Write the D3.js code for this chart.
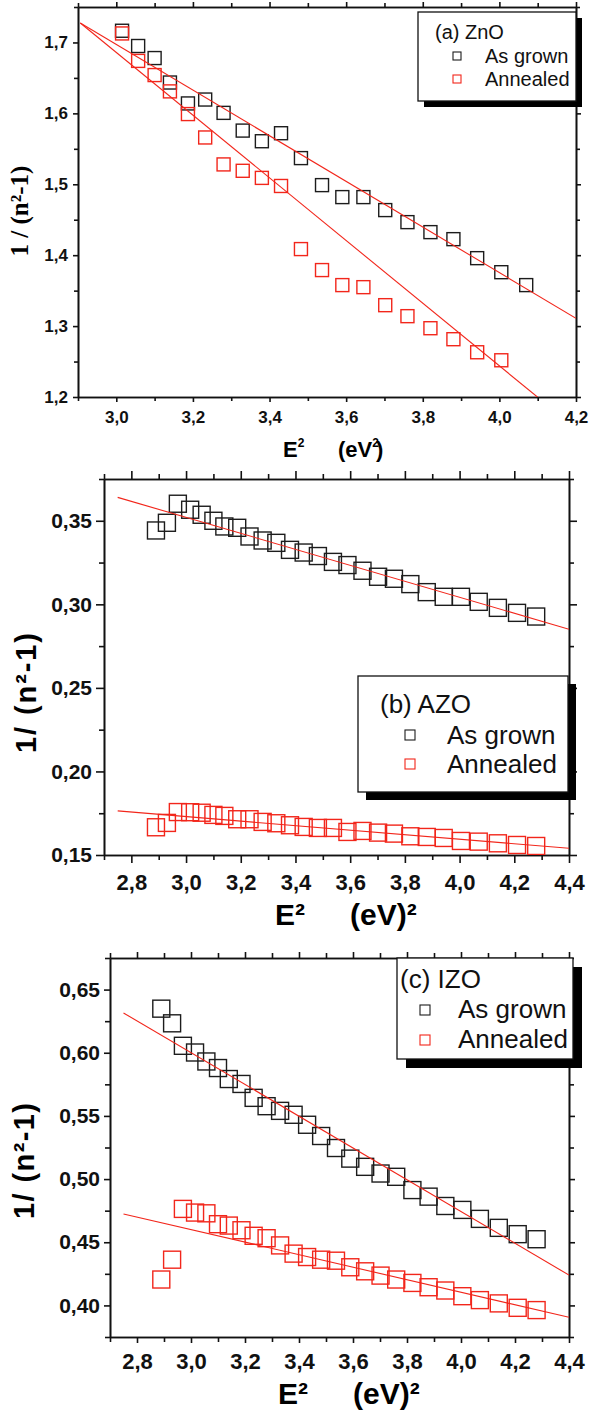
<!DOCTYPE html>
<html lang="en">
<head>
<meta charset="UTF-8">
<title>1/(n²-1) versus E² for ZnO, AZO and IZO</title>
<script src="https://d3js.org/d3.v7.min.js"></script>
<style>
  body { margin: 0; background: #fff; }
  svg { display: block; font-family: "Liberation Sans", Arial, sans-serif; }
  .domain, .tick line { stroke: #111; stroke-width: 1.6px; }
  .tick text { font-weight: bold; fill: #111; }
  .legend text { fill: #111; }
</style>
</head>
<body>
<div id="chart"></div>
<script>
// photon energy squared, eV² (same grid for all films; ZnO uses it from the 4th value)
const e2 = [2.89, 2.93, 2.97, 3.015, 3.057, 3.10, 3.14, 3.187, 3.232, 3.28, 3.33, 3.38, 3.43, 3.482,
            3.537, 3.59, 3.645, 3.702, 3.76, 3.82, 3.88, 3.942, 4.005, 4.07, 4.14, 4.21, 4.28];

// (a) ZnO
const znoGrown = [1.7165, 1.695, 1.678, 1.6435, 1.614, 1.6195, 1.6007, 1.5757, 1.5607, 1.572, 1.5369,
                  1.4988, 1.4819, 1.4819, 1.4636, 1.4466, 1.4325, 1.4226, 1.3958, 1.376, 1.3578];
const znoAnnealed = [1.7127, 1.674, 1.654, 1.631, 1.599, 1.566, 1.528, 1.519, 1.509, 1.4976, 1.4086,
                     1.379, 1.3578, 1.3549, 1.3295, 1.314, 1.297, 1.2815, 1.2631, 1.2518];
const znoFitGrown = [[2.906, 1.7274], [4.2, 1.311]];
const znoFitAnnealed = [[2.906, 1.7274], [4.1, 1.1997]];

// (b) AZO
const azoGrown = [0.3442, 0.3488, 0.3602, 0.3566, 0.3536, 0.35, 0.3466, 0.3458, 0.3406, 0.3382, 0.3368,
                  0.3326, 0.331, 0.3289, 0.3254, 0.3235, 0.3201, 0.3165, 0.3153, 0.3121, 0.3073, 0.3045,
                  0.3045, 0.3015, 0.2979, 0.2949, 0.2927];
const azoAnnealed = [0.1666, 0.1692, 0.1757, 0.1756, 0.1753, 0.174, 0.1734, 0.1714, 0.1714, 0.1698, 0.169,
                     0.1678, 0.1668, 0.1662, 0.1662, 0.1638, 0.1644, 0.1634, 0.1628, 0.1612, 0.1608, 0.1602,
                     0.1584, 0.158, 0.157, 0.156, 0.1554];
const azoFitGrown = [[2.75, 0.364], [4.4, 0.2851]];
const azoFitAnnealed = [[2.75, 0.1764], [4.4, 0.154]];

// (c) IZO
const izoGrown = [0.6349, 0.6233, 0.6055, 0.6002, 0.5931, 0.5879, 0.5792, 0.5753, 0.5643, 0.5577, 0.554,
                  0.5509, 0.543, 0.5341, 0.5246, 0.5162, 0.5097, 0.5044, 0.5018, 0.4913, 0.4861, 0.4787,
                  0.4756, 0.4685, 0.4614, 0.4564, 0.4524];
const izoAnnealed = [0.4205, 0.4362, 0.4764, 0.4735, 0.4729, 0.4643, 0.4632, 0.4595, 0.4551, 0.4532, 0.4475,
                     0.441, 0.4383, 0.4362, 0.4354, 0.4302, 0.427, 0.4236, 0.4205, 0.4178, 0.4144, 0.4118,
                     0.4073, 0.4042, 0.4016, 0.3981, 0.3963];
const izoFitGrown = [[2.75, 0.6315], [4.4, 0.424]];
const izoFitAnnealed = [[2.75, 0.4724], [4.4, 0.3906]];

// ticks
const znoXTicks = [3.0, 3.2, 3.4, 3.6, 3.8, 4.0, 4.2];
const znoXMinor = [2.9, 3.1, 3.3, 3.5, 3.7, 3.9, 4.1];
const znoYTicks = [1.2, 1.3, 1.4, 1.5, 1.6, 1.7];
const znoYMinor = [1.25, 1.35, 1.45, 1.55, 1.65, 1.75];
const e2Ticks = [2.8, 3.0, 3.2, 3.4, 3.6, 3.8, 4.0, 4.2, 4.4];
const e2Minor = [2.7, 2.9, 3.1, 3.3, 3.5, 3.7, 3.9, 4.1, 4.3];
const azoYTicks = [0.15, 0.20, 0.25, 0.30, 0.35];
const azoYMinor = [0.175, 0.225, 0.275, 0.325, 0.375];
const izoYTicks = [0.40, 0.45, 0.50, 0.55, 0.60, 0.65];
const izoYMinor = [0.375, 0.425, 0.475, 0.525, 0.575, 0.625, 0.675];

const seriesNames = ["As grown", "Annealed"];
const panelNames = ["(a) ZnO", "(b) AZO", "(c) IZO"];

const RED = "#f2261b", BLACK = "#1c1c1c";

const svg = d3.select("#chart").append("svg")
    .attr("width", 592).attr("height", 1414);

const comma = d => d3.format("." + (d < 1 ? 2 : 1) + "f")(d).replace(".", ",");

function panel(o, i) {
    const x = d3.scaleLinear().domain(o.xDom).range([o.left, o.right]);
    const y = d3.scaleLinear().domain(o.yDom).range([o.bottom, o.top]);
    const g = svg.append("g");

    const clean = s => s.attr("font-size", null).attr("font-family", null);

    // minor ticks, all four sides
    g.append("g").attr("transform", `translate(0,${o.bottom})`)
        .call(d3.axisBottom(x).tickValues(o.xMinor).tickSize(o.minor).tickSizeOuter(0).tickFormat(""));
    g.append("g").attr("transform", `translate(0,${o.top})`)
        .call(d3.axisTop(x).tickValues(o.xMinor).tickSize(o.minor).tickSizeOuter(0).tickFormat(""));
    g.append("g").attr("transform", `translate(${o.left},0)`)
        .call(d3.axisLeft(y).tickValues(o.yMinor).tickSize(o.minor).tickSizeOuter(0).tickFormat(""));
    g.append("g").attr("transform", `translate(${o.right},0)`)
        .call(d3.axisRight(y).tickValues(o.yMinor).tickSize(o.minor).tickSizeOuter(0).tickFormat(""));

    // major ticks
    g.append("g").attr("transform", `translate(0,${o.bottom})`)
        .call(d3.axisBottom(x).tickValues(o.xTicks).tickSize(o.major).tickSizeOuter(0)
            .tickPadding(o.xPad).tickFormat(d => d3.format(".1f")(d).replace(".", ",")))
        .call(clean)
        .selectAll("text").style("font-size", o.xFont + "px");
    g.append("g").attr("transform", `translate(0,${o.top})`)
        .call(d3.axisTop(x).tickValues(o.xTicks).tickSize(o.major).tickSizeOuter(0).tickFormat(""));
    g.append("g").attr("transform", `translate(${o.left},0)`)
        .call(d3.axisLeft(y).tickValues(o.yTicks).tickSize(o.major).tickSizeOuter(0)
            .tickPadding(o.yPad).tickFormat(comma))
        .call(clean)
        .selectAll("text").style("font-size", o.yFont + "px");
    g.append("g").attr("transform", `translate(${o.right},0)`)
        .call(d3.axisRight(y).tickValues(o.yTicks).tickSize(o.major).tickSizeOuter(0).tickFormat(""));

    // data
    const clipId = "clip" + i;
    g.append("clipPath").attr("id", clipId).append("rect")
        .attr("x", o.left).attr("y", o.top)
        .attr("width", o.right - o.left).attr("height", o.bottom - o.top);
    const plot = g.append("g").attr("clip-path", `url(#${clipId})`);

    const line = d3.line().x(d => x(d[0])).y(d => y(d[1]));
    o.series.forEach((s, k) => {
        const pts = s.values.map((v, j) => [s.xs[j], v]);
        plot.append("g").selectAll("rect").data(pts).join("rect")
            .attr("x", d => x(d[0]) - o.size / 2)
            .attr("y", d => y(d[1]) - o.size / 2)
            .attr("width", o.size).attr("height", o.size)
            .attr("fill", "none")
            .attr("stroke", k === 0 ? BLACK : RED)
            .attr("stroke-width", 1.4);
    });
    o.fits.forEach(f => {
        plot.append("path").datum(f).attr("d", line)
            .attr("fill", "none").attr("stroke", RED).attr("stroke-width", 1.1);
    });

    // legend
    const L = o.legend;
    const lg = g.append("g").attr("class", "legend");
    lg.append("rect").attr("x", L.x + L.shadow).attr("y", L.y + L.shadow)
        .attr("width", L.w).attr("height", L.h).attr("fill", "#000");
    lg.append("rect").attr("x", L.x).attr("y", L.y).attr("width", L.w).attr("height", L.h)
        .attr("fill", "#fff").attr("stroke", "#111").attr("stroke-width", 1.3);
    lg.append("text").attr("x", L.titleX).attr("y", L.titleY)
        .style("font-size", L.font + "px").text(panelNames[i]);
    seriesNames.forEach((name, k) => {
        lg.append("rect")
            .attr("x", L.markX - L.mark / 2).attr("y", L.rowY[k] - L.mark / 2)
            .attr("width", L.mark).attr("height", L.mark)
            .attr("fill", "none").attr("stroke", k === 0 ? BLACK : RED).attr("stroke-width", 1.1);
        lg.append("text").attr("x", L.textX).attr("y", L.rowBase[k])
            .style("font-size", L.font + "px").text(name);
    });

    // axis titles
    o.titles(g);
}

const panels = [
    {
        left: 78, right: 576, top: 7, bottom: 397,
        xDom: [2.9, 4.2], yDom: [1.2, 1.75],
        xTicks: znoXTicks, xMinor: znoXMinor, yTicks: znoYTicks, yMinor: znoYMinor,
        major: 5, minor: 4, xPad: 9, yPad: 5, xFont: 17, yFont: 17, size: 13,
        series: [{ xs: e2.slice(3), values: znoGrown }, { xs: e2.slice(3), values: znoAnnealed }],
        fits: [znoFitGrown, znoFitAnnealed],
        legend: { x: 418, y: 12, w: 158, h: 89, shadow: 6, font: 20, titleX: 435, titleY: 39,
                  markX: 457, mark: 8, rowY: [56, 79], textX: 485, rowBase: [63, 86] },
        titles: g => {
            g.append("text").attr("transform", "translate(28,211) rotate(-90)")
                .attr("text-anchor", "middle")
                .style("font-family", "'Liberation Serif', 'Times New Roman', serif")
                .style("font-weight", "bold").style("font-size", "25px")
                .text("1 / (n²-1)");
            const t = g.append("text").attr("x", 283).attr("y", 457)
                .style("font-weight", "bold").style("font-size", "22px");
            t.append("tspan").text("E");
            t.append("tspan").attr("dy", -10).style("font-size", "12px").text("2");
            const u = g.append("text").attr("x", 338).attr("y", 457)
                .style("font-weight", "bold").style("font-size", "22px");
            u.append("tspan").text("(eV");
            u.append("tspan").attr("dy", -10).style("font-size", "12px").text("2");
            u.append("tspan").attr("dy", 10).attr("dx", -3).text(")");
        }
    },
    {
        left: 104, right: 569, top: 479, bottom: 855,
        xDom: [2.7, 4.4], yDom: [0.15, 0.375],
        xTicks: e2Ticks, xMinor: e2Minor, yTicks: azoYTicks, yMinor: azoYMinor,
        major: 8, minor: 5, xPad: 11, yPad: 4, xFont: 22, yFont: 21, size: 17,
        series: [{ xs: e2, values: azoGrown }, { xs: e2, values: azoAnnealed }],
        fits: [azoFitGrown, azoFitAnnealed],
        legend: { x: 358, y: 676, w: 210, h: 116, shadow: 8, font: 26, titleX: 380, titleY: 713,
                  markX: 410, mark: 10, rowY: [735, 764], textX: 447, rowBase: [744, 773] },
        titles: g => {
            g.append("text").attr("transform", "translate(36,693) rotate(-90)")
                .attr("text-anchor", "middle").attr("textLength", 120)
                .style("font-weight", "bold").style("font-size", "29px")
                .text("1/ (n²-1)");
            g.append("text").attr("x", 275).attr("y", 925)
                .style("font-weight", "bold").style("font-size", "30px").text("E²");
            g.append("text").attr("x", 350).attr("y", 925)
                .style("font-weight", "bold").style("font-size", "30px").text("(eV)²");
        }
    },
    {
        left: 110, right: 569, top: 958, bottom: 1337,
        xDom: [2.7, 4.4], yDom: [0.375, 0.675],
        xTicks: e2Ticks, xMinor: e2Minor, yTicks: izoYTicks, yMinor: izoYMinor,
        major: 6, minor: 5, xPad: 10, yPad: 4, xFont: 22, yFont: 21, size: 17,
        series: [{ xs: e2, values: izoGrown }, { xs: e2, values: izoAnnealed }],
        fits: [izoFitGrown, izoFitAnnealed],
        legend: { x: 397, y: 958, w: 176, h: 101, shadow: 9, font: 26, titleX: 400, titleY: 988,
                  markX: 425, mark: 10, rowY: [1010, 1040], textX: 458, rowBase: [1018, 1048] },
        titles: g => {
            g.append("text").attr("transform", "translate(34,1161) rotate(-90)")
                .attr("text-anchor", "middle").attr("textLength", 116)
                .style("font-weight", "bold").style("font-size", "29px")
                .text("1/ (n²-1)");
            g.append("text").attr("x", 278).attr("y", 1404)
                .style("font-weight", "bold").style("font-size", "30px").text("E²");
            g.append("text").attr("x", 353).attr("y", 1404)
                .style("font-weight", "bold").style("font-size", "30px").text("(eV)²");
        }
    }
];

panels.forEach(panel);
</script>
</body>
</html>
